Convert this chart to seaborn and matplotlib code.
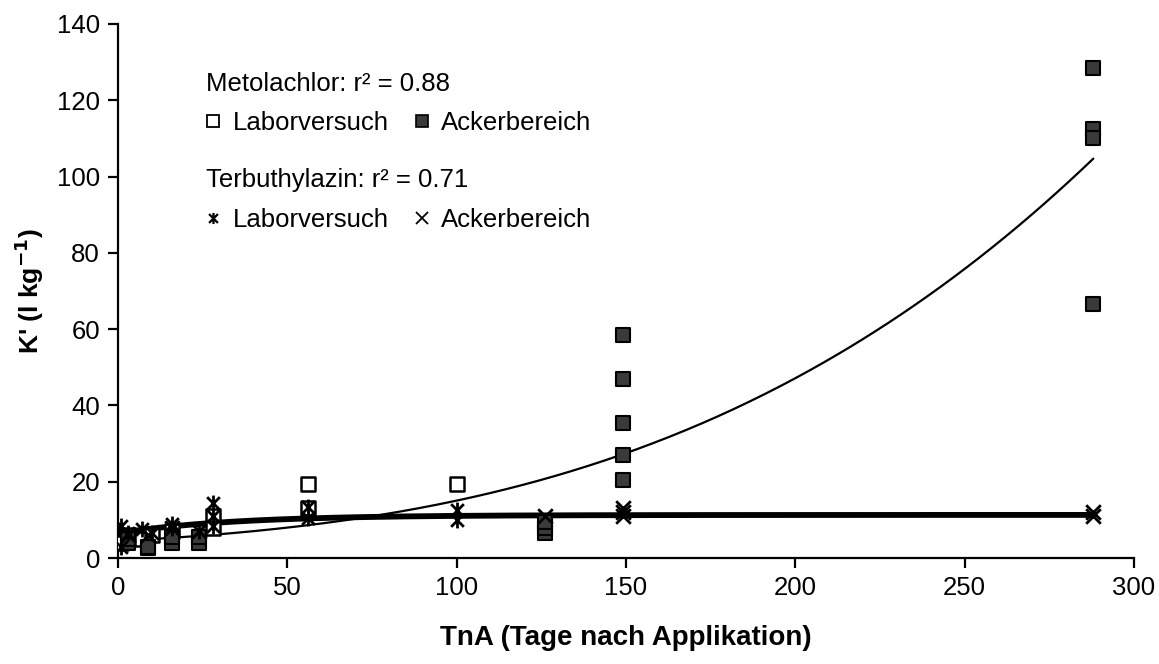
import numpy as np
import pandas as pd
import seaborn as sns
import matplotlib
matplotlib.use("Agg")
import matplotlib.pyplot as plt
from matplotlib.path import Path
from matplotlib.lines import Line2D

# --- measured values -------------------------------------------------------
# Metolachlor, laboratory experiment (open squares)
meto_lab_x = [1, 3, 7, 10, 16, 28, 28, 56, 56, 100]
meto_lab_y = [4, 6, 5, 6, 7, 11, 8, 19.5, 13, 19.5]

# Metolachlor, field plots (filled squares)
meto_field_x = [3, 3, 9, 9, 16, 16, 24, 24, 126, 126, 126,
                149, 149, 149, 149, 149, 288, 288, 288, 288]
meto_field_y = [4, 5, 2.5, 3, 4, 5.5, 4, 5.5, 6.5, 8, 9.5,
                58.5, 47, 35.5, 27, 20.5, 128.5, 112.5, 110, 66.5]

# Terbuthylazin, laboratory experiment (asterisks)
terb_lab_x = [1, 1, 3, 7, 10, 16, 16, 24, 28, 28, 28, 56, 56, 100, 100]
terb_lab_y = [3, 8.5, 6.5, 7.5, 6.5, 8, 9, 7, 14.5, 11, 8.5, 13.5, 10.5, 12.5, 10]

# Terbuthylazin, field plots (crosses)
terb_field_x = [3, 9, 16, 24, 126, 149, 149, 149, 288, 288]
terb_field_y = [6, 6, 8, 7, 11, 11, 12, 13, 11, 12]

# regression curves
meto_poly = [4.453, 0.04699, 0.0003475, 2.4235e-6]  # cubic in days
terb_sat = [11.3, 4.8, 0.0295]                       # A - B*exp(-k*t)
r2_meto = 0.88
r2_terb = 0.71

# --- figure ----------------------------------------------------------------
sns.set_theme(style="ticks")
plt.rcParams["font.family"] = ["Liberation Sans", "DejaVu Sans"]
plt.rcParams.update({
    "axes.linewidth": 1.6,
    "text.color": "black",
    "axes.labelcolor": "black",
    "xtick.color": "black",
    "ytick.color": "black",
    "axes.edgecolor": "black",
    "mathtext.default": "bf",
})

fig = plt.figure(figsize=(11.59, 6.64), dpi=100)
ax = fig.add_axes([0.1018, 0.1596, 0.8766, 0.8043])

# asterisk marker: two diagonals plus a vertical stroke
ast = Path([(-1, -1), (1, 1), (-1, 1), (1, -1), (0, -1.25), (0, 1.25)],
           [Path.MOVETO, Path.LINETO, Path.MOVETO, Path.LINETO,
            Path.MOVETO, Path.LINETO])

t = np.linspace(0, 288, 300)
meto_fit = np.polyval(meto_poly[::-1], t)
terb_fit = terb_sat[0] - terb_sat[1] * np.exp(-terb_sat[2] * t)
fits = pd.DataFrame({"t": t, "meto": meto_fit, "terb": terb_fit})

sns.lineplot(data=fits, x="t", y="terb", ax=ax, color="black", lw=4.2, zorder=2)
sns.lineplot(data=fits, x="t", y="meto", ax=ax, color="black", lw=1.6, zorder=2)

sns.scatterplot(x=meto_lab_x, y=meto_lab_y, ax=ax, marker="s", s=95,
                facecolor="white", edgecolor="black", linewidth=1.8, zorder=3)
sns.scatterplot(x=meto_field_x, y=meto_field_y, ax=ax, marker="s", s=95,
                facecolor="#3a3a3a", edgecolor="black", linewidth=1.5, zorder=3)
sns.scatterplot(x=terb_lab_x, y=terb_lab_y, ax=ax, marker=ast, s=130,
                color="black", edgecolor="black", linewidth=2.0, zorder=4)
sns.scatterplot(x=terb_field_x, y=terb_field_y, ax=ax, marker="x", s=110,
                color="black", edgecolor="black", linewidth=2.0, zorder=4)

ax.set_xlim(0, 300)
ax.set_ylim(0, 140)
ax.set_xticks(range(0, 301, 50))
ax.set_yticks(range(0, 141, 20))
ax.tick_params(axis="both", direction="out", length=7, width=1.6,
               labelsize=18.5, pad=6, colors="black")
sns.despine(ax=ax)

ax.set_xlabel("TnA (Tage nach Applikation)", fontsize=20, fontweight="bold",
              labelpad=18)
ax.set_ylabel("K' (l kg$^{-1}$)", fontsize=19, fontweight="bold", labelpad=8)

# --- legend blocks ---------------------------------------------------------
def handle(marker, face, size, lw):
    return Line2D([], [], ls="none", marker=marker, markersize=size,
                  markerfacecolor=face, markeredgecolor="black",
                  markeredgewidth=lw, color="black")

kw = dict(ncol=2, frameon=False, fontsize=18.5, title_fontsize=18.5,
          loc="upper left", handletextpad=0.45, columnspacing=1.0,
          handlelength=0.6, borderpad=0, labelspacing=0.6)

leg1 = ax.legend([handle("s", "white", 8, 1.3), handle("s", "#3a3a3a", 8, 1.2)],
                 ["Laborversuch", "Ackerbereich"],
                 title=f"Metolachlor: r² = {r2_meto:.2f}",
                 bbox_to_anchor=(0.0735, 0.935), **kw)
leg1._legend_box.align = "left"
ax.add_artist(leg1)

leg2 = ax.legend([handle(ast, "black", 8, 1.6), handle("x", "black", 8, 1.3)],
                 ["Laborversuch", "Ackerbereich"],
                 title=f"Terbuthylazin: r² = {r2_terb:.2f}",
                 bbox_to_anchor=(0.0735, 0.754), **kw)
leg2._legend_box.align = "left"

fig.savefig("out.png", dpi=100)
